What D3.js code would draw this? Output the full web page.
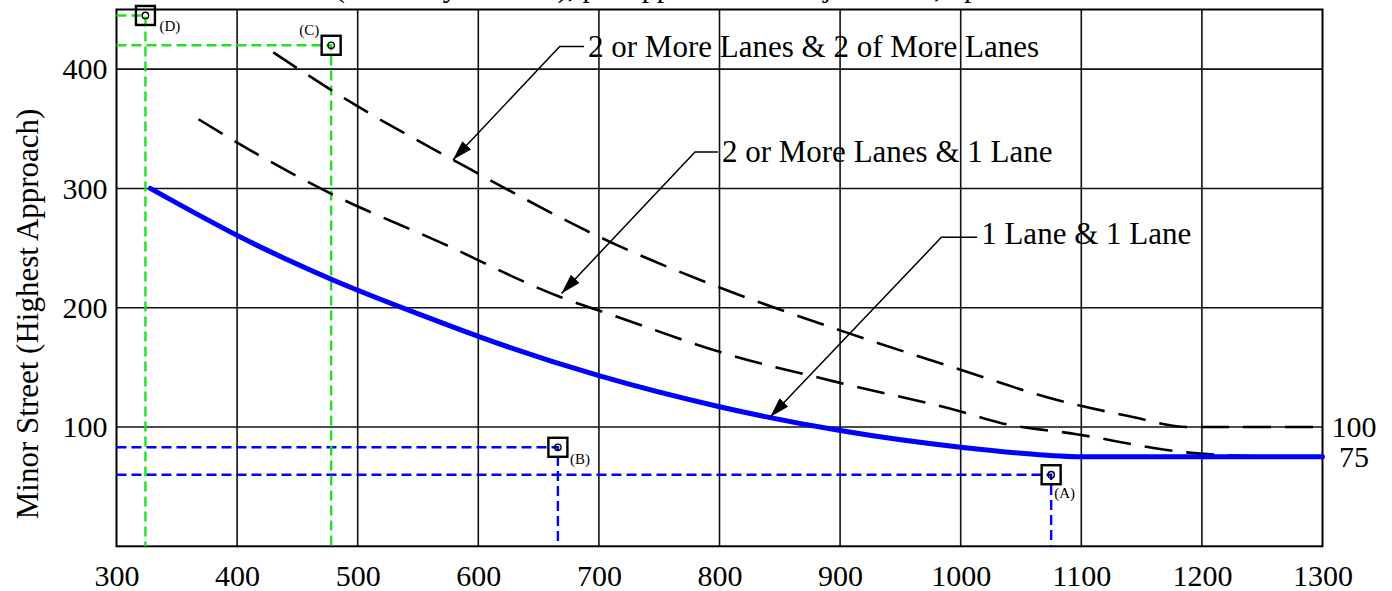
<!DOCTYPE html>
<html>
<head>
<meta charset="utf-8">
<script src="https://cdn.jsdelivr.net/npm/d3@7/dist/d3.min.js"></script>
<style>
  html, body { margin: 0; padding: 0; background: #fff; }
  svg { display: block; }
  text { font-family: "Liberation Serif", "Times New Roman", "DejaVu Serif", serif; fill: #000; }
</style>
</head>
<body>
<svg id="chart" width="1392" height="591"></svg>
<script>
// ---- data ----
const xTicks = [300, 400, 500, 600, 700, 800, 900, 1000, 1100, 1200, 1300];
const yTicks = [100, 200, 300, 400];
const yAxisTitle = "Minor Street (Highest Approach)";
const topTitle = "(Two-way Volume), per approach on Major Street, vph";

// threshold curves: [major street vph, minor street vph]
const curveOneAndOne = [[328, 300], [411, 255], [479, 223.5], [563, 190], [600, 176], [700, 143], [800, 117], [900, 97], [1000, 83], [1050, 78], [1100, 75], [1300, 75]];
const curveTwoAndOne = [[368, 358], [411, 332], [479, 295], [568, 255], [668, 209], [715, 192.5], [800, 163], [900, 137], [1000, 113], [1033, 103.4], [1096, 94], [1182, 79.3], [1260, 75]];
const curveTwoAndTwo = [[430, 414], [498, 370], [579, 324], [715, 252.5], [800, 217], [900, 181], [1000, 148], [1080, 122.6], [1140, 109], [1188, 100], [1300, 100]];

const curveNames = ["1 Lane & 1 Lane", "2 or More Lanes & 1 Lane", "2 or More Lanes & 2 of More Lanes"];
// leader arrows: tip on curve, elbow, label start (data units)
const leaderTip   = [[842, 108.4], [669, 212], [579, 324]];
const leaderElbow = [[984, 259], [779.7, 330.5], [667.5, 419]];
const leaderText  = [[1017, 253], [802, 322.5], [691, 410.5]];

const endLabels = ["100", "75"];
const endValues = [100, 75];

// plotted example points
const pointLabels = ["(A)", "(B)", "(C)", "(D)"];
const pointX = [1075, 666, 478, 324];
const pointY = [60, 83, 420, 445];

// ---- drawing ----
const svg = d3.select("#chart");
const x = d3.scaleLinear().domain([300, 1300]).range([116.5, 1322.5]);
const y = d3.scaleLinear().domain([0, 450]).range([546.3, 9.5]);

// top caption (runs off the top edge)
svg.append("text")
  .attr("x", 335).attr("y", -3)
  .style("font-size", "30px")
  .text(topTitle);

// grid
const grid = svg.append("g").attr("stroke", "#111").attr("stroke-width", 1.6);
grid.selectAll("line.v").data(xTicks.slice(1, -1)).join("line")
  .attr("x1", d => x(d)).attr("x2", d => x(d))
  .attr("y1", y(0)).attr("y2", y(450));
grid.selectAll("line.h").data(yTicks).join("line")
  .attr("x1", x(300)).attr("x2", x(1300))
  .attr("y1", d => y(d)).attr("y2", d => y(d));
svg.append("rect")
  .attr("x", x(300)).attr("y", y(450))
  .attr("width", x(1300) - x(300)).attr("height", y(0) - y(450))
  .attr("fill", "none").attr("stroke", "#000").attr("stroke-width", 2);

// axes (labels only)
const xAxis = svg.append("g").attr("transform", `translate(0,${y(0)})`)
  .call(d3.axisBottom(x).tickValues(xTicks).tickSize(0).tickPadding(18).tickFormat(d3.format("d")));
const yAxis = svg.append("g").attr("transform", `translate(${x(300)},0)`)
  .call(d3.axisLeft(y).tickValues(yTicks).tickSize(0).tickPadding(9).tickFormat(d3.format("d")));
[xAxis, yAxis].forEach(a => {
  a.attr("font-family", null);
  a.select(".domain").remove();
  a.selectAll("text").style("font-size", "30px").attr("fill", "#000");
});

svg.append("text")
  .attr("transform", `translate(38,${(y(0) + y(450)) / 2 + 36}) rotate(-90)`)
  .attr("text-anchor", "middle")
  .style("font-size", "31px")
  .text(yAxisTitle);

// guide lines for example points
const guideColor = ["#0000ff", "#0000ff", "#22e022", "#22e022"];
const guides = svg.append("g").attr("fill", "none").attr("stroke-width", 2.4).attr("stroke-dasharray", "10,5");
pointX.forEach((px, i) => {
  guides.append("path")
    .attr("stroke", guideColor[i])
    .attr("d", `M${x(300)},${y(pointY[i])}H${x(px)}V${y(0)}`);
});

// threshold curves
const line = d3.line().x(d => x(d[0])).y(d => y(d[1])).curve(d3.curveMonotoneX);
svg.append("path").datum(curveTwoAndTwo).attr("d", line)
  .attr("fill", "none").attr("stroke", "#000").attr("stroke-width", 2.6).attr("stroke-dasharray", "28,14");
svg.append("path").datum(curveTwoAndOne).attr("d", line)
  .attr("fill", "none").attr("stroke", "#000").attr("stroke-width", 2.6).attr("stroke-dasharray", "28,14");
svg.append("path").datum(curveOneAndOne).attr("d", line)
  .attr("fill", "none").attr("stroke", "#0000ff").attr("stroke-width", 5).attr("stroke-linecap", "round");

// end values at right
svg.selectAll("text.end").data(endLabels).join("text")
  .attr("x", 1354).attr("y", (d, i) => y(endValues[i]))
  .attr("dy", "0.34em").attr("text-anchor", "middle")
  .style("font-size", "30px")
  .text(d => d);

// example point markers
const marks = svg.append("g");
pointX.forEach((px, i) => {
  const cx = x(px), cy = y(pointY[i]);
  marks.append("rect").attr("x", cx - 9.5).attr("y", cy - 9.5).attr("width", 19).attr("height", 19)
    .attr("fill", "none").attr("stroke", "#000").attr("stroke-width", 2.4);
  marks.append("circle").attr("cx", cx).attr("cy", cy).attr("r", 3.2)
    .attr("fill", "none").attr("stroke", "#000").attr("stroke-width", 1.4);
});
const labelOffset = [[3, 23, "start"], [12, 17, "start"], [-12, -10, "end"], [14, 16, "start"]];
pointLabels.forEach((t, i) => {
  svg.append("text")
    .attr("x", x(pointX[i]) + labelOffset[i][0])
    .attr("y", y(pointY[i]) + labelOffset[i][1])
    .attr("text-anchor", labelOffset[i][2])
    .style("font-size", "15px").attr("fill", "#222")
    .text(t);
});

// leader arrows and curve names
svg.append("defs").append("marker")
  .attr("id", "head").attr("viewBox", "0 0 20 12")
  .attr("refX", 20).attr("refY", 6)
  .attr("markerWidth", 20).attr("markerHeight", 12)
  .attr("markerUnits", "userSpaceOnUse").attr("orient", "auto")
  .append("path").attr("d", "M0,0L20,6L0,12Z").attr("fill", "#000");

curveNames.forEach((name, i) => {
  const tx = x(leaderText[i][0]);
  const ex = x(leaderElbow[i][0]), ey = y(leaderElbow[i][1]);
  svg.append("path")
    .attr("d", `M${tx - 4},${ey}H${ex}L${x(leaderTip[i][0])},${y(leaderTip[i][1])}`)
    .attr("fill", "none").attr("stroke", "#000").attr("stroke-width", 1.5)
    .attr("marker-end", "url(#head)");
  svg.append("text")
    .attr("x", tx).attr("y", y(leaderText[i][1]))
    .style("font-size", "31px")
    .text(name);
});
</script>
</body>
</html>
